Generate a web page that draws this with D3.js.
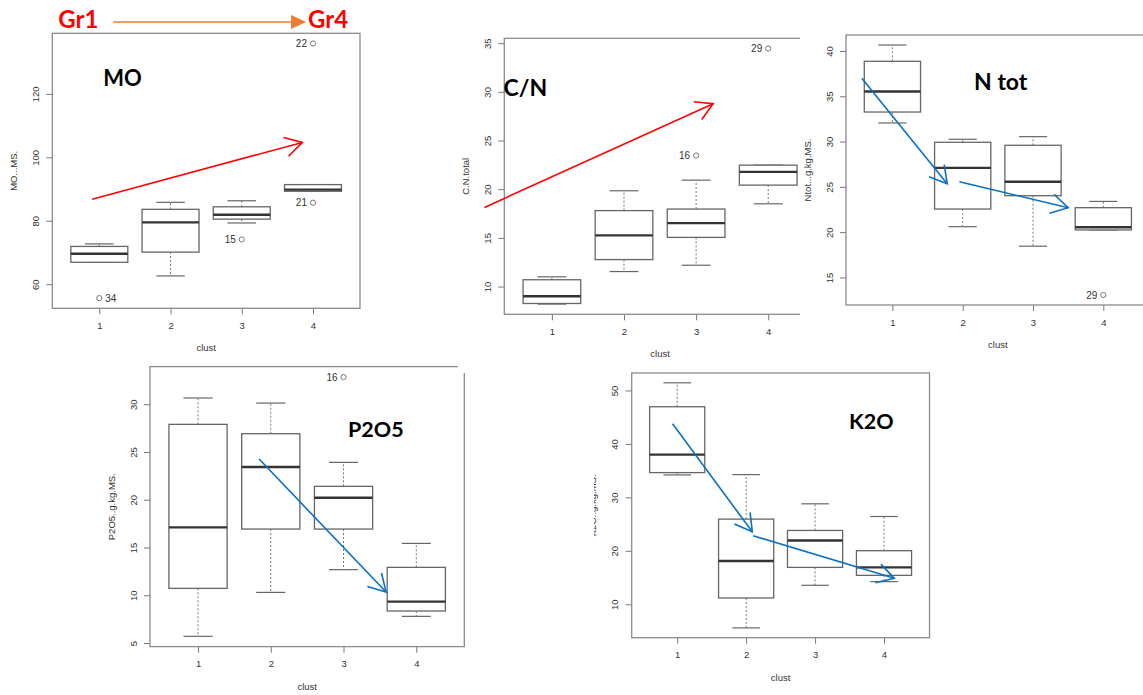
<!DOCTYPE html>
<html>
<head>
<meta charset="utf-8">
<script src="https://cdn.jsdelivr.net/npm/d3@7"></script>
<style>
  html, body { margin: 0; padding: 0; background: #fff; }
  svg { display: block; }
  .r-text { font-family: "Liberation Sans", Arial, sans-serif; fill: #333; }
  .tag { font-family: Lato, "Open Sans", sans-serif; font-weight: 700; }
</style>
</head>
<body>
<svg id="chart" width="1143" height="695"></svg>
<script>
// ======================================================
// DATA — boxplot stats
// each row: [lower whisker, Q1, median, Q3, upper whisker]
// ======================================================
const clusters = ["1", "2", "3", "4"];

const moStats = [
  [66.9, 66.9, 69.6, 71.9, 72.7],
  [62.6, 70.1, 79.5, 83.6, 85.8],
  [79.3, 80.5, 81.9, 84.4, 86.3],
  [89.3, 89.3, 89.8, 91.4, 91.4]
];
const moOutliers = [
  { clust: 1, value: 55.6, id: "34", side: "right" },
  { clust: 3, value: 74.1, id: "15", side: "left" },
  { clust: 4, value: 135.9, id: "22", side: "left" },
  { clust: 4, value: 85.7, id: "21", side: "left" }
];
const moTicks = [60, 80, 100, 120];

const cnStats = [
  [8.2, 8.26, 9.0, 10.7, 11.0],
  [11.54, 12.77, 15.26, 17.8, 19.84],
  [12.19, 15.05, 16.52, 17.96, 20.93],
  [18.5, 20.42, 21.78, 22.47, 22.47]
];
const cnOutliers = [
  { clust: 3, value: 23.46, id: "16", side: "left" },
  { clust: 4, value: 34.45, id: "29", side: "left" }
];
const cnTicks = [10, 15, 20, 25, 30, 35];

const ntStats = [
  [32.05, 33.26, 35.53, 38.86, 40.66],
  [20.6, 22.55, 27.1, 29.92, 30.25],
  [18.45, 24.02, 25.56, 29.59, 30.54],
  [20.24, 20.24, 20.54, 22.7, 23.39]
];
const ntOutliers = [
  { clust: 4, value: 13.06, id: "29", side: "left" }
];
const ntTicks = [15, 20, 25, 30, 35, 40];

const pStats = [
  [5.7, 10.72, 17.11, 27.89, 30.65],
  [10.3, 16.93, 23.42, 26.91, 30.12],
  [12.68, 16.93, 20.21, 21.4, 23.91],
  [7.79, 8.35, 9.33, 12.92, 15.43]
];
const pOutliers = [
  { clust: 3, value: 32.84, id: "16", side: "left" }
];
const pTicks = [5, 10, 15, 20, 25, 30];

const kStats = [
  [34.2, 34.63, 38.0, 46.95, 51.43],
  [5.58, 11.18, 18.09, 25.93, 34.26],
  [13.55, 16.9, 21.94, 23.81, 28.79],
  [14.23, 15.41, 16.9, 20.02, 26.42]
];
const kOutliers = [];
const kTicks = [10, 20, 30, 40, 50];

// trend arrows drawn on top, in (cluster, value) units
const moArrows = [{ from: [0.90, 86.8], to: [3.85, 104.7] }];
const cnArrows = [{ from: [0.065, 18.13], to: [3.236, 28.78] }];
const ntArrows = [
  { from: [0.565, 37.0], to: [1.78, 25.34] },
  { from: [1.953, 25.56], to: [3.50, 22.7] }
];
const pArrows = [{ from: [1.84, 24.26], to: [3.585, 10.34] }];
const kArrows = [
  { from: [0.933, 43.78], to: [2.089, 23.56] },
  { from: [2.103, 22.81], to: [4.15, 14.85] }
];

// -----------------------------
// PANEL LAYOUT (pasted R plots)
// -----------------------------
const panels = [
  { key: "mo", stats: moStats, outliers: moOutliers, ticks: moTicks, yLabel: "MO...MS.",
    title: "MO", titleAt: [1.056, 122.5], titleSize: 22, arrows: moArrows, arrowColor: "#ff0000",
    frame: { left: 52.3, top: 33.3, right: 360, bottom: 308.3 } },
  { key: "cn", stats: cnStats, outliers: cnOutliers, ticks: cnTicks, yLabel: "C.N.total",
    title: "C/N", titleAt: [0.33, 29.6], titleSize: 23, arrows: cnArrows, arrowColor: "#ff0000",
    frame: { left: 504.3, top: 38.3, right: 815.8, bottom: 314.3 }, clipRight: 800 },
  { key: "nt", stats: ntStats, outliers: ntOutliers, ticks: ntTicks, yLabel: "Ntot...g.kg.MS.",
    title: "N tot", titleAt: [2.162, 35.7], titleSize: 23, arrows: ntArrows, arrowColor: "#0a70c4",
    frame: { left: 846, top: 35, right: 1149.7, bottom: 305 } },
  { key: "p", stats: pStats, outliers: pOutliers, ticks: pTicks, yLabel: "P2O5..g.kg.MS.",
    title: "P2O5", titleAt: [3.062, 26.6], titleSize: 21.5, arrows: pArrows, arrowColor: "#0a70c4",
    frame: { left: 150, top: 366.7, right: 464.3, bottom: 646.7 }, cornerGap: [458, 373] },
  { key: "k", stats: kStats, outliers: kOutliers, ticks: kTicks, yLabel: "K2O..g.kg.MS.",
    title: "K2O", titleAt: [3.492, 42.8], titleSize: 21.5, arrows: kArrows, arrowColor: "#0a70c4",
    frame: { left: 631.7, top: 373, right: 929.5, bottom: 637.7 }, labelClipLeft: 594 }
];

const svg = d3.select("#chart");
const defs = svg.append("defs");

// open "V" arrow head at the tip of a segment
const arrowHead = (x1, y1, x2, y2, len, ang) => {
  const a = Math.atan2(y1 - y2, x1 - x2);
  const w1 = [x2 + len * Math.cos(a + ang), y2 + len * Math.sin(a + ang)];
  const w2 = [x2 + len * Math.cos(a - ang), y2 + len * Math.sin(a - ang)];
  return `M${w1[0]},${w1[1]}L${x2},${y2}L${w2[0]},${w2[1]}`;
};

// ======================================================
// ONE R-STYLE BOXPLOT PANEL
// ======================================================
function drawPanel(p) {
  const f = p.frame;
  const g = svg.append("g").attr("class", "panel-" + p.key);

  // the pasted image is cut off on the right
  if (p.clipRight) {
    defs.append("clipPath").attr("id", "clip-" + p.key)
      .append("rect").attr("x", 0).attr("y", 0).attr("width", p.clipRight).attr("height", 695);
    g.attr("clip-path", `url(#clip-${p.key})`);
  }

  // R: xlim 0.5..4.5, both axes padded 4%
  const x = d3.scaleLinear().domain([0.34, 4.66]).range([f.left, f.right]);
  const vals = p.stats.flat().concat(p.outliers.map(d => d.value));
  const [lo, hi] = d3.extent(vals);
  const pad = (hi - lo) * 0.04;
  const y = d3.scaleLinear().domain([lo - pad, hi + pad]).range([f.bottom, f.top]);

  // -----------------------------
  // AXES
  // -----------------------------
  const yAxis = g.append("g")
    .attr("transform", `translate(${f.left},0)`)
    .call(d3.axisLeft(y).tickValues(p.ticks).tickSize(6));
  yAxis.select(".domain").remove();
  yAxis.selectAll("line").attr("stroke", "#777");
  yAxis.selectAll("text")
    .attr("class", "r-text")
    .attr("transform", "rotate(-90)")
    .attr("x", 0).attr("y", -13.5).attr("dy", 0)
    .attr("text-anchor", "middle")
    .style("font-size", "9.5px");

  const xAxis = g.append("g")
    .attr("transform", `translate(0,${f.bottom})`)
    .call(d3.axisBottom(x).tickValues([1, 2, 3, 4]).tickSize(6).tickFormat(d => clusters[d - 1]));
  xAxis.select(".domain").remove();
  xAxis.selectAll("line").attr("stroke", "#777");
  xAxis.selectAll("text")
    .attr("class", "r-text")
    .attr("y", 20.5).attr("dy", 0)
    .style("font-size", "9.5px");

  g.append("text")
    .attr("class", "r-text")
    .attr("x", x(2.5))
    .attr("y", f.bottom + 43)
    .attr("text-anchor", "middle")
    .style("font-size", "9.5px")
    .text("clust");

  // y title (K2O one is half cut in the source)
  let labelHolder = g;
  if (p.labelClipLeft) {
    defs.append("clipPath").attr("id", "lab-" + p.key)
      .append("rect").attr("x", p.labelClipLeft).attr("y", 0).attr("width", 200).attr("height", 695);
    labelHolder = g.append("g").attr("clip-path", `url(#lab-${p.key})`);
  }
  labelHolder.append("text")
    .attr("class", "r-text")
    .attr("transform", `translate(${f.left - 35.5},${(f.top + f.bottom) / 2}) rotate(-90)`)
    .attr("text-anchor", "middle")
    .style("font-size", "9.5px")
    .text(p.yLabel);

  // -----------------------------
  // FRAME (box round the plot)
  // -----------------------------
  if (p.cornerGap) {
    const [gx, gy] = p.cornerGap;
    g.append("path")
      .attr("d", `M${gx},${f.top}L${f.left},${f.top}L${f.left},${f.bottom}L${f.right},${f.bottom}L${f.right},${gy}`)
      .attr("fill", "none").attr("stroke", "#8a8a8a").attr("stroke-width", 1.3);
  } else {
    g.append("rect")
      .attr("x", f.left).attr("y", f.top)
      .attr("width", f.right - f.left).attr("height", f.bottom - f.top)
      .attr("fill", "none").attr("stroke", "#8a8a8a").attr("stroke-width", 1.3);
  }

  // -----------------------------
  // BOXES
  // -----------------------------
  const rows = p.stats.map((s, i) => ({ c: i + 1, lo: s[0], q1: s[1], med: s[2], q3: s[3], hi: s[4] }));
  const box = g.selectAll(".box").data(rows).join("g").attr("class", "box");

  box.append("line")
    .attr("x1", d => x(d.c)).attr("x2", d => x(d.c))
    .attr("y1", d => y(d.q3)).attr("y2", d => y(d.hi))
    .attr("stroke", "#777").attr("stroke-dasharray", "2,2");
  box.append("line")
    .attr("x1", d => x(d.c)).attr("x2", d => x(d.c))
    .attr("y1", d => y(d.q1)).attr("y2", d => y(d.lo))
    .attr("stroke", "#777").attr("stroke-dasharray", "2,2");

  // staples (half the box width)
  ["lo", "hi"].forEach(k => {
    box.append("line")
      .attr("x1", d => x(d.c - 0.2)).attr("x2", d => x(d.c + 0.2))
      .attr("y1", d => y(d[k])).attr("y2", d => y(d[k]))
      .attr("stroke", "#666").attr("stroke-width", 1.2);
  });

  box.append("rect")
    .attr("x", d => x(d.c - 0.4))
    .attr("width", d => x(d.c + 0.4) - x(d.c - 0.4))
    .attr("y", d => y(d.q3))
    .attr("height", d => y(d.q1) - y(d.q3))
    .attr("fill", "#fff").attr("stroke", "#666").attr("stroke-width", 1.3);

  box.append("line")
    .attr("x1", d => x(d.c - 0.4)).attr("x2", d => x(d.c + 0.4))
    .attr("y1", d => y(d.med)).attr("y2", d => y(d.med))
    .attr("stroke", "#333").attr("stroke-width", 2.4);

  // -----------------------------
  // OUTLIERS + ids
  // -----------------------------
  g.selectAll(".out").data(p.outliers).join("circle")
    .attr("class", "out")
    .attr("cx", d => x(d.clust)).attr("cy", d => y(d.value))
    .attr("r", 2.6)
    .attr("fill", "none").attr("stroke", "#777").attr("stroke-width", 1);

  g.selectAll(".out-id").data(p.outliers).join("text")
    .attr("class", "out-id r-text")
    .attr("x", d => x(d.clust) + (d.side === "right" ? 6 : -6))
    .attr("y", d => y(d.value))
    .attr("dy", "0.35em")
    .attr("text-anchor", d => d.side === "right" ? "start" : "end")
    .style("font-size", "10px")
    .text(d => d.id);

  // -----------------------------
  // TITLE TAG + TREND ARROWS
  // -----------------------------
  g.append("text")
    .attr("class", "tag")
    .attr("x", x(p.titleAt[0])).attr("y", y(p.titleAt[1]))
    .attr("fill", "#000")
    .style("font-size", p.titleSize + "px")
    .text(p.title);

  p.arrows.forEach(a => {
    const x1 = x(a.from[0]), y1 = y(a.from[1]);
    const x2 = x(a.to[0]), y2 = y(a.to[1]);
    g.append("line")
      .attr("x1", x1).attr("y1", y1).attr("x2", x2).attr("y2", y2)
      .attr("stroke", p.arrowColor).attr("stroke-width", 1.6);
    g.append("path")
      .attr("d", arrowHead(x1, y1, x2, y2, 19.5, Math.PI / 6))
      .attr("fill", "none").attr("stroke", p.arrowColor).attr("stroke-width", 1.6);
  });

  return { x, y };
}

const scales = panels.map(drawPanel);

// ======================================================
// HEADER: Gr1 ──▶ Gr4 above the MO panel
// ======================================================
const mx = scales[0].x;
const top0 = panels[0].frame.top;

svg.append("text").attr("class", "tag")
  .attr("x", mx(0.425)).attr("y", top0 - 5)
  .attr("fill", "#ff0000").style("font-size", "24px").text("Gr1");
svg.append("text").attr("class", "tag")
  .attr("x", mx(3.93)).attr("y", top0 - 5)
  .attr("fill", "#ff0000").style("font-size", "24px").text("Gr4");

const ax1 = mx(1.196), ax2 = mx(3.903), ay = top0 - 11.3;
svg.append("line")
  .attr("x1", ax1).attr("x2", ax2 - 14).attr("y1", ay).attr("y2", ay)
  .attr("stroke", "#ed7d31").attr("stroke-width", 1.5);
svg.append("path")
  .attr("d", `M${ax2 - 15},${ay - 7}L${ax2},${ay}L${ax2 - 15},${ay + 7}Z`)
  .attr("fill", "#ed7d31");
</script>
</body>
</html>
